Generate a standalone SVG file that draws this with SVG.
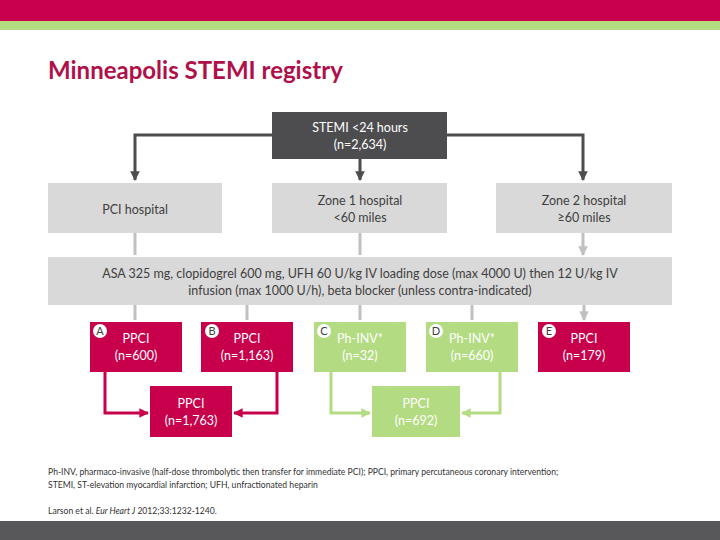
<svg xmlns="http://www.w3.org/2000/svg" width="720" height="540" viewBox="0 0 720 540">
<defs>
<marker id="ag" viewBox="0 0 10 10" refX="9" refY="5" markerWidth="3.2" markerHeight="3.2" orient="auto"><path d="M0,0L10,5L0,10z" fill="#c0c0c0"/></marker>
<marker id="ad" viewBox="0 0 10 10" refX="9" refY="5" markerWidth="3.2" markerHeight="3.2" orient="auto"><path d="M0,0L10,5L0,10z" fill="#4d4d4f"/></marker>
<marker id="ar" viewBox="0 0 10 10" refX="9" refY="5" markerWidth="3.2" markerHeight="3.2" orient="auto"><path d="M0,0L10,5L0,10z" fill="#c8004b"/></marker>
<marker id="an" viewBox="0 0 10 10" refX="9" refY="5" markerWidth="3.2" markerHeight="3.2" orient="auto"><path d="M0,0L10,5L0,10z" fill="#b3dc82"/></marker>
</defs>
<style>
text{font-family:Lato,"Liberation Sans",sans-serif;font-size:12.5px;text-anchor:middle}
.w{fill:#fff}.d{fill:#404040}
.grey{fill:#d9d9d9}.red{fill:#c8004b}.grn{fill:#b3dc82}
.badge{fill:#fff}.bt{font-size:11px;fill:#404040}
.fn{font-size:8.6px;text-anchor:start;fill:#333}
</style>
<rect x="0" y="0" width="720" height="21" fill="#c8004b"/>
<rect x="0" y="21" width="720" height="9" fill="#b3dc82"/>
<text x="48" y="79" style="font-size:24px;font-weight:bold;fill:#b0104a;text-anchor:start">Minneapolis STEMI registry</text>
<g id="connectors" fill="none" stroke-width="3">
<path d="M272,135H135V180" stroke="#4d4d4f" marker-end="url(#ad)"/>
<path d="M447,135H583V180" stroke="#4d4d4f" marker-end="url(#ad)"/>
<path d="M360,159V180" stroke="#4d4d4f" marker-end="url(#ad)"/>
<path d="M135,233V255M360,233V255M583,233V255" stroke="#c0c0c0" marker-end="url(#ag)"/>
<path d="M135,305V320M247,305V320M360,305V320M472,305V320M584,305V320" stroke="#c0c0c0" marker-end="url(#ag)"/>
<path d="M105,372V413H148" stroke="#c8004b" marker-end="url(#ar)"/>
<path d="M277,372V413H234" stroke="#c8004b" marker-end="url(#ar)"/>
<path d="M331,372V413H370" stroke="#b3dc82" marker-end="url(#an)"/>
<path d="M500,372V413H462" stroke="#b3dc82" marker-end="url(#an)"/>
</g>
<g id="stemi"><rect x="272" y="112" width="175" height="47" fill="#4d4d4f"/><text class="w" x="360" y="132">STEMI &lt;24 hours</text><text class="w" x="360" y="149">(n=2,634)</text></g>
<g id="pci"><rect class="grey" x="48" y="183" width="174" height="50"/><text class="d" x="135" y="214">PCI hospital</text></g>
<g id="zone1"><rect class="grey" x="272" y="183" width="175" height="50"/><text class="d" x="360" y="205">Zone 1 hospital</text><text class="d" x="360" y="222">&lt;60 miles</text></g>
<g id="zone2"><rect class="grey" x="496" y="183" width="176" height="50"/><text class="d" x="584" y="205">Zone 2 hospital</text><text class="d" x="584" y="222">≥60 miles</text></g>
<g id="treat"><rect class="grey" x="48" y="257" width="624" height="48"/><text class="d" x="360" y="278">ASA 325 mg, clopidogrel 600 mg, UFH 60 U/kg IV loading dose (max 4000 U) then 12 U/kg IV</text><text class="d" x="360" y="295">infusion (max 1000 U/h), beta blocker (unless contra-indicated)</text></g>
<g id="A"><rect class="red" x="90" y="322" width="92" height="50"/><circle class="badge" cx="100" cy="331" r="7"/><text class="bt" x="100" y="335">A</text><text class="w" x="136" y="343">PPCI</text><text class="w" x="136" y="360">(n=600)</text></g>
<g id="B"><rect class="red" x="201" y="322" width="92" height="50"/><circle class="badge" cx="212" cy="331" r="7"/><text class="bt" x="212" y="335">B</text><text class="w" x="247" y="343">PPCI</text><text class="w" x="247" y="360">(n=1,163)</text></g>
<g id="C"><rect class="grn" x="314" y="322" width="92" height="50"/><circle class="badge" cx="324" cy="331" r="7"/><text class="bt" x="324" y="335">C</text><text class="w" x="360" y="343">Ph-INV*</text><text class="w" x="360" y="360">(n=32)</text></g>
<g id="D"><rect class="grn" x="426" y="322" width="92" height="50"/><circle class="badge" cx="436" cy="331" r="7"/><text class="bt" x="436" y="335">D</text><text class="w" x="472" y="343">Ph-INV*</text><text class="w" x="472" y="360">(n=660)</text></g>
<g id="E"><rect class="red" x="538" y="322" width="92" height="50"/><circle class="badge" cx="549" cy="331" r="7"/><text class="bt" x="549" y="335">E</text><text class="w" x="584" y="343">PPCI</text><text class="w" x="584" y="360">(n=179)</text></g>
<g id="AB"><rect class="red" x="150" y="386" width="82" height="51"/><text class="w" x="191" y="408">PPCI</text><text class="w" x="191" y="425">(n=1,763)</text></g>
<g id="CD"><rect class="grn" x="372" y="386" width="88" height="51"/><text class="w" x="416" y="408">PPCI</text><text class="w" x="416" y="425">(n=692)</text></g>
<text class="fn" x="48" y="475">Ph-INV, pharmaco-invasive (half-dose thrombolytic then transfer for immediate PCI); PPCI, primary percutaneous coronary intervention;</text>
<text class="fn" x="48" y="488">STEMI, ST-elevation myocardial infarction; UFH, unfractionated heparin</text>
<text class="fn" x="48" y="514">Larson et al. <tspan font-style="italic">Eur Heart J</tspan> 2012;33:1232-1240.</text>
<rect x="0" y="521" width="720" height="19" fill="#58585a"/>
</svg>
